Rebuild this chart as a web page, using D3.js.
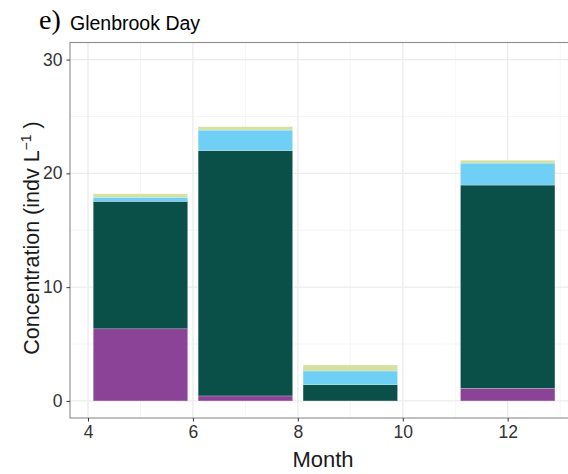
<!DOCTYPE html>
<html>
<head>
<meta charset="utf-8">
<script src="https://cdn.jsdelivr.net/npm/d3@7"></script>
<style>
  html, body { margin: 0; padding: 0; background: #fff; }
  svg { display: block; }
  text { font-family: "Liberation Sans", Arial, Helvetica, sans-serif; }
</style>
</head>
<body>
<svg id="chart" width="568" height="474"></svg>
<script>
// Sampling months (bar centres)
const months = [5, 7, 9, 12];
// Concentration of each group per month (indv L^-1), stacked bottom to top
const groupNames = ["purple", "green", "blue", "yellow"];
const purpleVals = [6.34, 0.44, 0.00, 1.11];
const greenVals  = [11.20, 21.56, 1.43, 17.86];
const blueVals   = [0.36, 1.80, 1.20, 1.93];
const yellowVals = [0.30, 0.30, 0.53, 0.25];
const groupColors = ["#8A4397", "#0B5048", "#6FCFF5", "#D5E1A0"];
// Axis ticks
const xTicks = [4, 6, 8, 10, 12];
const xMinor = [5, 7, 9, 11, 13];
const yTicks = [0, 10, 20, 30];
const yMinor = [5, 15, 25];
const barWidth = 1.8;

const svg = d3.select("#chart");
const panel = { left: 70, top: 42.5, right: 578, bottom: 418 };

const x = d3.scaleLinear().domain([3.657, 13.34]).range([panel.left, panel.right]);
const y = d3.scaleLinear().domain([-1.5, 31.5]).range([panel.bottom, panel.top]);

const rows = months.map((m, i) => ({
  month: m,
  purple: purpleVals[i],
  green: greenVals[i],
  blue: blueVals[i],
  yellow: yellowVals[i]
}));
const stacked = d3.stack().keys(groupNames)(rows);

svg.append("defs").append("clipPath").attr("id", "panelClip")
  .append("rect")
  .attr("x", panel.left).attr("y", panel.top)
  .attr("width", panel.right - panel.left).attr("height", panel.bottom - panel.top);

const g = svg.append("g").attr("clip-path", "url(#panelClip)");

// Grid lines
g.selectAll(".yminor").data(yMinor).join("line")
  .attr("x1", panel.left).attr("x2", panel.right)
  .attr("y1", d => y(d)).attr("y2", d => y(d))
  .attr("stroke", "#F2F2F2").attr("stroke-width", 0.8);
g.selectAll(".xminor").data(xMinor).join("line")
  .attr("y1", panel.top).attr("y2", panel.bottom)
  .attr("x1", d => x(d)).attr("x2", d => x(d))
  .attr("stroke", "#F2F2F2").attr("stroke-width", 0.8);
g.selectAll(".ymajor").data(yTicks).join("line")
  .attr("x1", panel.left).attr("x2", panel.right)
  .attr("y1", d => y(d)).attr("y2", d => y(d))
  .attr("stroke", "#EBEBEB").attr("stroke-width", 1.3);
g.selectAll(".xmajor").data(xTicks).join("line")
  .attr("y1", panel.top).attr("y2", panel.bottom)
  .attr("x1", d => x(d)).attr("x2", d => x(d))
  .attr("stroke", "#EBEBEB").attr("stroke-width", 1.3);

// Stacked bars
stacked.forEach((layer, li) => {
  g.selectAll(null).data(layer.filter(d => d[1] - d[0] > 0)).join("rect")
    .attr("x", d => x(d.data.month - barWidth / 2))
    .attr("width", d => x(d.data.month + barWidth / 2) - x(d.data.month - barWidth / 2))
    .attr("y", d => y(d[1]))
    .attr("height", d => y(d[0]) - y(d[1]))
    .attr("fill", groupColors[li])
    .attr("stroke", "#ffffff").attr("stroke-opacity", 0.35).attr("stroke-width", 0.6);
});

// Panel border
svg.append("rect")
  .attr("x", panel.left).attr("y", panel.top)
  .attr("width", panel.right - panel.left).attr("height", panel.bottom - panel.top)
  .attr("fill", "none").attr("stroke", "#8C8C8C").attr("stroke-width", 1.1);

// Axes
const xAxis = d3.axisBottom(x).tickValues(xTicks).tickSize(3.5).tickPadding(4);
const yAxis = d3.axisLeft(y).tickValues(yTicks).tickSize(3.5).tickPadding(4);

const gx = svg.append("g").attr("transform", `translate(0,${panel.bottom})`).call(xAxis);
const gy = svg.append("g").attr("transform", `translate(${panel.left},0)`).call(yAxis);
[gx, gy].forEach(a => {
  a.select(".domain").remove();
  a.selectAll(".tick line").attr("stroke", "#333333").attr("stroke-width", 1);
  a.selectAll(".tick text").attr("fill", "#333333")
    .style("font-family", "'Liberation Sans', Arial, sans-serif").style("font-size", "17.5px");
});

// Axis titles
svg.append("text")
  .attr("x", 323).attr("y", 467)
  .attr("text-anchor", "middle")
  .style("font-size", "22px").attr("fill", "#1a1a1a")
  .text("Month");

const yt = svg.append("text")
  .attr("transform", `translate(39,238) rotate(-90)`)
  .attr("text-anchor", "middle")
  .style("font-size", "21.5px").attr("fill", "#1a1a1a");
yt.append("tspan").text("Concentration (indv L");
yt.append("tspan").attr("dy", -8).style("font-size", "14px").text("\u22121");
yt.append("tspan").attr("dy", 8).text(" )");

// Title
svg.append("text")
  .attr("x", 39).attr("y", 29)
  .style("font-family", "'Liberation Serif', 'Times New Roman', serif")
  .style("font-size", "28px").attr("fill", "#000")
  .text("e)");
svg.append("text")
  .attr("x", 70).attr("y", 30)
  .style("font-size", "19.5px").attr("fill", "#000")
  .text("Glenbrook Day");
</script>
</body>
</html>
